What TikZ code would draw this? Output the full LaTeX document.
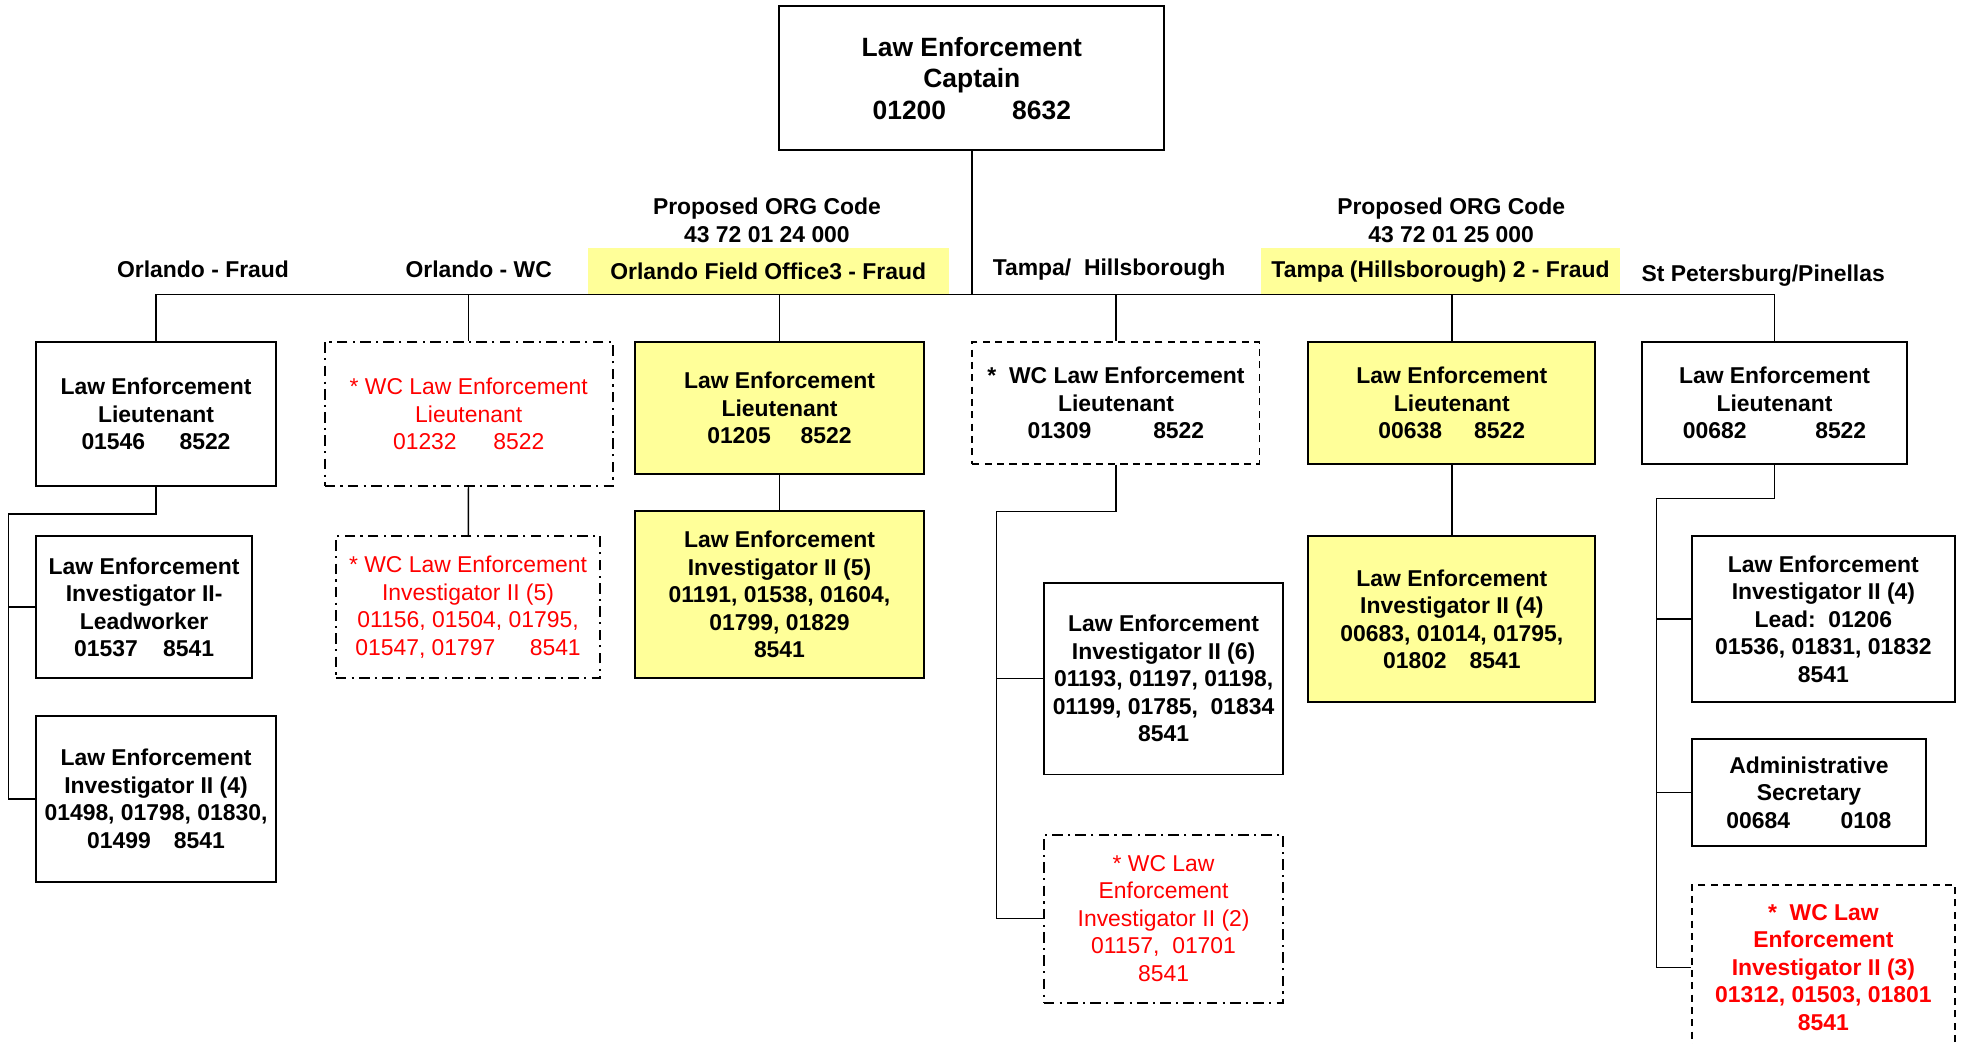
\documentclass[tikz,border=0pt]{standalone}
\usepackage{fontspec}
\setmainfont{Liberation Sans}
\usepackage{xcolor}
\definecolor{memo}{HTML}{FFFF99}
\definecolor{wcred}{HTML}{FF0000}
\tikzstyle{post} = [rectangle, draw, line width=1.1pt, align=center, inner sep=2pt, font=\bfseries\fontsize{13}{15.6}\selectfont]
\tikzstyle{fraud} = [post, fill=memo]
\tikzstyle{wcdash} = [post, dash pattern=on 4pt off 3pt]
\tikzstyle{wcdot} = [post, dash pattern=on 6pt off 3pt on 1.2pt off 3pt, text=wcred, font=\fontsize{13}{15.6}\selectfont]
\tikzstyle{unit} = [align=center, inner sep=0pt, font=\bfseries\fontsize{13}{15.6}\selectfont]

\begin{document}
\begin{tikzpicture}[x=0.025cm,y=-0.025cm,line width=0.8pt]
  \useasboundingbox (0,0) rectangle (1568,833);

  \node[post, minimum width=7.675cm, minimum height=2.875cm, font=\bfseries\fontsize{15}{18}\selectfont] (Capt) at (775.5,62.5)
    {Law Enforcement\\Captain\\01200\hspace{2.5em}8632};

  % unit headings above the bus
  \node[unit] (Hd_OF) at (162,215) {Orlando - Fraud};
  \node[unit] (Hd_OW) at (382,215) {Orlando - WC};
  \node[unit] (Org_24) at (612,176) {Proposed ORG Code\\43 72 01 24 000};
  \node[unit, fill=memo, minimum width=7.2cm, minimum height=0.925cm] (Hd_OFO) at (613,216.5) {Orlando Field Office3 - Fraud};
  \node[unit] (Hd_TH) at (885,215) {Tampa/\ \ Hillsborough};
  \node[unit] (Org_25) at (1158,176) {Proposed ORG Code\\43 72 01 25 000};
  \node[unit, fill=memo, minimum width=7.175cm, minimum height=0.925cm] (Hd_TH2) at (1149.5,216.5) {Tampa (Hillsborough) 2 - Fraud};
  \node[unit] (Hd_SP) at (1407,220) {St Petersburg/Pinellas};

  % lieutenants
  \node[post, minimum width=4.775cm, minimum height=2.875cm] (Lt_OF) at (124.5,330.5)
    {Law Enforcement\\Lieutenant\\01546\hspace{1.5em}8522};
  \node[wcdot, minimum width=5.75cm, minimum height=2.875cm] (Lt_OW) at (374,330.5)
    {* WC Law Enforcement\\Lieutenant\\01232\hspace{1.6em}8522};
  \node[fraud, minimum width=5.75cm, minimum height=2.625cm] (Lt_OFO) at (622,325.5)
    {Law Enforcement\\Lieutenant\\01205\hspace{1.3em}8522};
  \node[wcdash, minimum width=5.725cm, minimum height=2.425cm] (Lt_TH) at (890.5,321.5)
    {*\ \ WC Law Enforcement\\Lieutenant\\01309\hspace{2.7em}8522};
  \node[fraud, minimum width=5.725cm, minimum height=2.425cm] (Lt_TH2) at (1158.5,321.5)
    {Law Enforcement\\Lieutenant\\00638\hspace{1.4em}8522};
  \node[post, minimum width=5.3cm, minimum height=2.425cm] (Lt_SP) at (1416,321.5)
    {Law Enforcement\\Lieutenant\\00682\hspace{3em}8522};

  % investigators and staff
  \node[post, minimum width=4.3cm, minimum height=2.825cm] (Inv_OF_Lead) at (115,484.5)
    {Law Enforcement\\Investigator II-\\Leadworker\\01537\hspace{1.1em}8541};
  \node[post, minimum width=4.775cm, minimum height=3.325cm] (Inv_OF) at (124.5,637.5)
    {Law Enforcement\\Investigator II (4)\\01498, 01798, 01830,\\01499\hspace{1em}8541};
  \node[wcdot, minimum width=5.275cm, minimum height=2.825cm] (Inv_OW) at (373.5,484.5)
    {* WC Law Enforcement\\Investigator II (5)\\01156, 01504, 01795,\\01547, 01797\hspace{1.5em}8541};
  \node[fraud, minimum width=5.75cm, minimum height=3.325cm] (Inv_OFO) at (622,474.5)
    {Law Enforcement\\Investigator II (5)\\01191, 01538, 01604,\\01799, 01829\\8541};
  \node[post, minimum width=4.775cm, minimum height=3.825cm] (Inv_TH) at (928.5,541.5)
    {Law Enforcement\\Investigator II (6)\\01193, 01197, 01198,\\01199, 01785,\ \ 01834\\8541};
  \node[wcdot, minimum width=4.775cm, minimum height=3.35cm] (Inv_THWC) at (928.5,733)
    {* WC Law\\Enforcement\\Investigator II (2)\\01157,\ \ 01701\\8541};
  \node[fraud, minimum width=5.725cm, minimum height=3.3cm] (Inv_TH2) at (1158.5,494)
    {Law Enforcement\\Investigator II (4)\\00683, 01014, 01795,\\01802\hspace{1em}8541};
  \node[post, minimum width=5.25cm, minimum height=3.3cm] (Inv_SP) at (1455,494)
    {Law Enforcement\\Investigator II (4)\\Lead:\ \ 01206\\01536, 01831, 01832\\8541};
  \node[post, minimum width=4.675cm, minimum height=2.125cm] (Sec_SP) at (1443.5,632.5)
    {Administrative\\Secretary\\00684\hspace{2.2em}0108};
  \node[wcdash, text=wcred, minimum width=5.25cm, minimum height=3.3cm] (Inv_SPWC) at (1455,772)
    {*\ \ WC Law\\Enforcement\\Investigator II (3)\\01312, 01503, 01801\\8541};

  % bus from the captain
  \coordinate (J) at (776,235);
  \draw (Capt.south) -- (Capt.south |- J);
  \draw (Lt_OF.north |- J) -- (Lt_SP.north |- J);
  \foreach \n in {Lt_OF,Lt_OW,Lt_OFO,Lt_TH,Lt_TH2,Lt_SP}
    \draw (\n.north |- J) -- (\n.north);

  \draw (Lt_OW) -- (Inv_OW);
  \draw (Lt_OFO) -- (Inv_OFO);
  \draw (Lt_TH2) -- (Inv_TH2);

  \coordinate (R_OF) at (7,410);
  \draw (Lt_OF.south) |- (R_OF) |- (Inv_OF.west);
  \draw (R_OF |- Inv_OF_Lead.west) -- (Inv_OF_Lead.west);

  \coordinate (R_TH) at (795,408);
  \draw (Lt_TH.south) |- (R_TH) |- (Inv_THWC.west);
  \draw (R_TH |- Inv_TH.west) -- (Inv_TH.west);

  \coordinate (R_SP) at (1322,398);
  \draw (Lt_SP.south) |- (R_SP) |- (Inv_SPWC.west);
  \draw (R_SP |- Inv_SP.west) -- (Inv_SP.west);
  \draw (R_SP |- Sec_SP.west) -- (Sec_SP.west);
\end{tikzpicture}
\end{document}
